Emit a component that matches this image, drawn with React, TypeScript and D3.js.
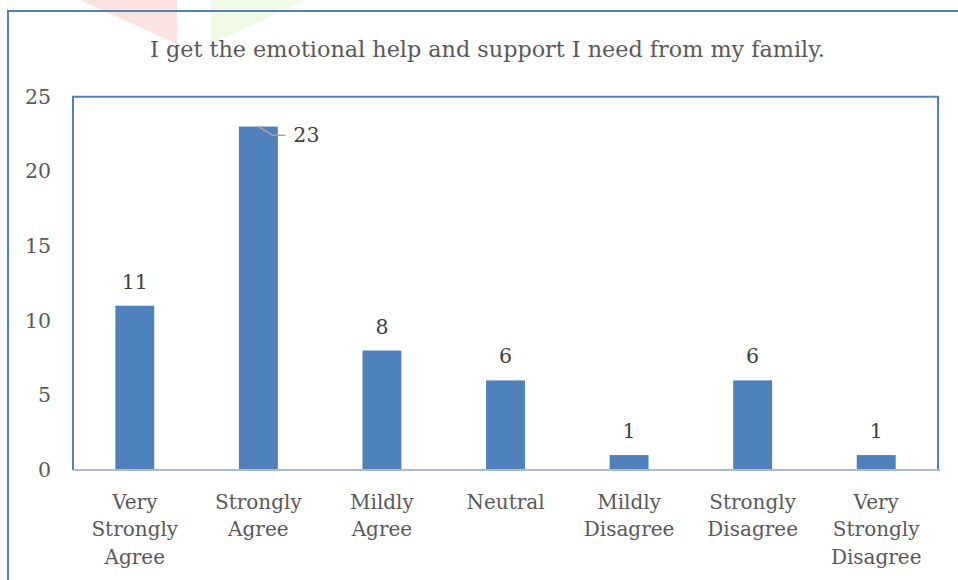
import React from "react";
import * as d3 from "d3";

const categories: string[] = [
  "Very Strongly Agree",
  "Strongly Agree",
  "Mildly Agree",
  "Neutral",
  "Mildly Disagree",
  "Strongly Disagree",
  "Very Strongly Disagree",
];
const values: number[] = [11, 23, 8, 6, 1, 6, 1];
const yTicks: number[] = [0, 5, 10, 15, 20, 25];
const title = "I get the emotional help and support I need from my family.";

const W = 958;
const H = 580;
const plot = { left: 73, right: 938, top: 96.7, bottom: 470 };
const FONT = "'DejaVu Serif', serif";
const BLUE = "#4f81bd";

export default function App() {
  const x = d3
    .scaleBand<string>()
    .domain(categories)
    .range([plot.left, plot.right])
    .padding(0);
  const y = d3.scaleLinear().domain([0, 25]).range([plot.bottom, plot.top]);
  const barW = x.bandwidth() * 0.315;

  return (
    <svg
      width={W}
      height={H}
      style={{ position: "absolute", left: 0, top: 0, background: "#fff" }}
    >
      {/* watermark fragments */}
      <polygon points="80,0 177,0 177,44" fill="#fde2e2" />
      <polygon points="211,0 306,0 211,44" fill="#eefae4" />

      {/* outer chart border */}
      <rect x={8} y={11} width={980} height={600} fill="none" stroke={BLUE} strokeWidth={2} />

      {/* title */}
      <text
        x={487.5}
        y={57}
        textAnchor="middle"
        fontFamily={FONT}
        fontSize={22.3}
        fill="#595959"
      >
        {title}
      </text>

      {/* plot area border */}
      <path
        d={`M${plot.left},${plot.bottom} V${plot.top} H${plot.right} V${plot.bottom}`}
        fill="none"
        stroke={BLUE}
        strokeWidth={2}
      />

      {/* y tick labels */}
      {yTicks.map((t) => (
        <text
          key={t}
          x={51}
          y={y(t)}
          textAnchor="end"
          dominantBaseline="central"
          fontFamily={FONT}
          fontSize={20.5}
          fill="#595959"
        >
          {t}
        </text>
      ))}

      {/* bars */}
      {categories.map((c, i) => {
        const cx = (x(c) as number) + x.bandwidth() / 2;
        return (
          <rect
            key={c}
            x={cx - barW / 2}
            y={y(values[i])}
            width={barW}
            height={y(0) - y(values[i])}
            fill={BLUE}
          />
        );
      })}

      {/* category axis line */}
      <line
        x1={plot.left}
        x2={plot.right + 2}
        y1={plot.bottom}
        y2={plot.bottom}
        stroke="#a9bad3"
        strokeWidth={2}
      />

      {/* data labels */}
      {categories.map((c, i) => {
        const cx = (x(c) as number) + x.bandwidth() / 2;
        const top = y(values[i]);
        if (top - 24 < plot.top + 10) {
          const ly = top + 8.6;
          return (
            <g key={c}>
              <polyline
                points={`${cx},${top} ${cx + 14},${ly} ${cx + 27},${ly}`}
                fill="none"
                stroke="#a6a6a6"
                strokeWidth={1.5}
              />
              <text
                x={cx + 35}
                y={ly}
                dominantBaseline="central"
                fontFamily={FONT}
                fontSize={20.5}
                fill="#404040"
              >
                {values[i]}
              </text>
            </g>
          );
        }
        return (
          <text
            key={c}
            x={cx}
            y={top - 24}
            textAnchor="middle"
            dominantBaseline="central"
            fontFamily={FONT}
            fontSize={20.5}
            fill="#404040"
          >
            {values[i]}
          </text>
        );
      })}

      {/* category labels */}
      {categories.map((c) => {
        const cx = (x(c) as number) + x.bandwidth() / 2;
        const words = c.split(" ");
        return (
          <g key={c}>
            {words.map((w, k) => (
              <text
                key={k}
                x={cx}
                y={501.5 + k * 27.7}
                textAnchor="middle"
                dominantBaseline="central"
                fontFamily={FONT}
                fontSize={20}
                fill="#595959"
              >
                {w}
              </text>
            ))}
          </g>
        );
      })}
    </svg>
  );
}
